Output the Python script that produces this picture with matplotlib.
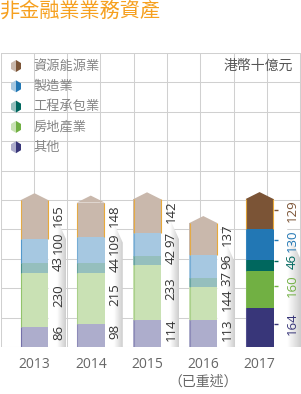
#!/usr/bin/env python
"""
Non-financial business assets, stacked columns by sector
"""

import matplotlib.pyplot as plt
import matplotlib as mpl
import numpy as np
from matplotlib.patches import Polygon
from matplotlib.colors import LinearSegmentedColormap

# === data (HK$ bn), stacked bottom -> top
years = ['2013', '2014', '2015', '2016', '2017']
year_note = '（已重述）'        # under 2016
sectors = ['其他', '房地產業', '工程承包業', '製造業', '資源能源業']
other = [86, 98, 114, 113, 164]
real_estate = [230, 215, 233, 144, 160]
construction = [43, 44, 42, 37, 46]
manufacturing = [100, 109, 97, 96, 130]
resources = [165, 148, 142, 137, 129]
title = '非金融業業務資產'
unit = '港幣十億元'

pale = ['#adadcc', '#c9e1b4', '#95bfbd', '#a6c8e1', '#c9b8ac']
dark = ['#383679', '#71b043', '#00675e', '#2277b4', '#7b5436']
edge = ['#6e6aa6', '#8cc063', '#3f8d86', '#4a93c9', '#e8a93a']

cjk = ['Noto Sans CJK TC', 'DejaVu Sans']
num = ['Open Sans', 'DejaVu Sans']

# === plot
W, H = 301, 394
fig = plt.figure(figsize=(W / 100, H / 100), dpi=100)
mpl.rcParams.update({'font.size': 9})

y_top, y_base = 53, 347                 # pixel rows of the grid
ax = fig.add_axes([0.5 / W, (H - y_base) / H, 300 / W, (y_base - y_top) / H])
ax.set_xlim(0, 9)
ax.set_ylim(0, 1250)
ax.set_xticks(np.arange(0, 10))
ax.set_yticks(np.arange(0, 1251, 125))
ax.grid(True, color='#d0d0d0', lw=0.75)
ax.set_axisbelow(True)
ax.tick_params(length=0, labelbottom=False, labelleft=False)
for s in ax.spines.values():
    s.set_visible(False)

px_x = 9 / 300.0                        # data units per pixel
px_y = 1250 / (y_base - y_top)

series = [other, real_estate, construction, manufacturing, resources]
vals = np.array(series)                 # (sector, year)
cum = np.vstack([np.zeros(len(years)), np.cumsum(vals, axis=0)])
totals = cum[-1]
xs = 1.02 + 1.688 * np.arange(len(years))
bw = 28 * px_x
roof = 7 * px_y
lab_size = 9.5

shade = LinearSegmentedColormap.from_list('shade', ['#ffffff', '#ffffff', '#cdcdcd'])

for i, x in enumerate(xs):
    hl = (i == len(years) - 1)
    cols = dark if hl else pale
    x0, x1 = x - bw / 2, x + bw / 2

    # --- shadow column right of the bar
    cw = (27 if hl else 18) * px_x
    drop = (60 if hl else 40) * px_y
    poly = Polygon([(x1, totals[i]), (x1 + cw, totals[i] - drop),
                    (x1 + cw, 0), (x1, 0)], closed=True, facecolor='none', edgecolor='none')
    ax.add_patch(poly)
    im = ax.imshow(np.linspace(0, 1, 60).reshape(1, -1), cmap=shade, aspect='auto',
                   extent=[x1, x1 + cw, 0, totals[i]], zorder=1, interpolation='bilinear')
    im.set_clip_path(poly)

    # --- stacked segments
    for k in range(len(series)):
        ax.bar(x, vals[k, i], bw, bottom=cum[k, i], color=cols[k], lw=0, zorder=2)
        ax.vlines(x0 + 0.5 * px_x, cum[k, i], cum[k + 1, i], color=edge[k], lw=0.8,
                  alpha=0.9 if (k == 4 or i == 0) else 0.5, zorder=3)
    ax.vlines(x1 - 0.5 * px_x, cum[4, i], totals[i], color=edge[4], lw=0.8, zorder=3)
    ax.fill([x0, x, x1], [totals[i], totals[i] + roof, totals[i]], color=cols[4], lw=0, zorder=2)

    # --- value labels, pushed up when they overlap
    lx = x1 + (19 if hl else 10) * px_x
    prev_top = -1e9
    for k in range(len(series)):
        txt = str(vals[k, i])
        half = (len(txt) * 3.8 + 1) * px_y
        yc = (cum[k, i] + cum[k + 1, i]) / 2 + 4 * px_y
        yc = max(yc, prev_top + half)
        prev_top = yc + half
        ax.text(lx, yc, txt, rotation=90, ha='center', va='center', fontsize=lab_size,
                family=num, color=dark[k] if hl else '#333333', zorder=4)
        if hl:
            ax.hlines(yc, x1, x1 + 4 * px_x, color=dark[k], lw=1, zorder=4)

    # --- year labels
    ax.text(x, -18 * px_y, years[i], ha='center', va='center', fontsize=10,
            family=num, color='#666666', clip_on=False)
ax.text(xs[3], -34.5 * px_y, year_note, ha='center', va='center', fontsize=10,
        family=cjk, color='#666666', clip_on=False)

# --- overlay in pixels: title, legend, unit
lax = fig.add_axes([0, 0, 1, 1], zorder=5)
lax.set_xlim(0, W)
lax.set_ylim(H, 0)
lax.axis('off')
lax.text(0, 11.5, title, ha='left', va='center', fontsize=14.5, family=cjk, color='#f6a01f')
lax.text(293, 66, unit, ha='right', va='center', fontsize=10, family=cjk, color='#555555')

rows = [147.2, 126.9, 106.6, 86.3, 66]
for k in range(len(sectors)):
    cx, cy = 16, rows[k]
    lax.add_patch(Polygon([(cx, cy - 6), (cx - 5, cy - 3), (cx - 5, cy + 3), (cx, cy + 6)],
                          closed=True, facecolor=pale[k], lw=0))
    lax.add_patch(Polygon([(cx, cy - 6), (cx + 5, cy - 3), (cx + 5, cy + 3), (cx, cy + 6)],
                          closed=True, facecolor=dark[k], lw=0))
    lax.text(33, cy, sectors[k], ha='left', va='center', fontsize=9.5, family=cjk, color='#858585')

fig.savefig('out.png', dpi=100)
